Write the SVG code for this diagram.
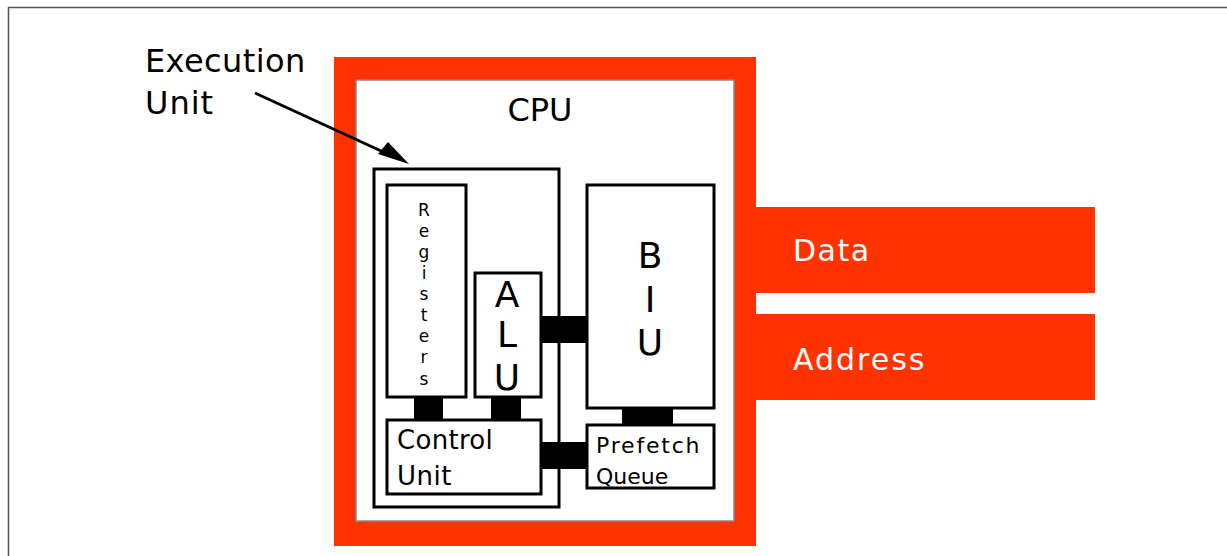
<svg xmlns="http://www.w3.org/2000/svg" width="1227" height="556" viewBox="0 0 1227 556">
<style>
text{font-family:"DejaVu Sans","Liberation Sans",sans-serif;fill:#000}
.box{fill:#fff;stroke:#000;stroke-width:3}
.red{fill:#ff3300}
.bar{fill:#000}
.wt{fill:#fff}
</style>
<rect x="0" y="0" width="1227" height="556" fill="#fff"/>
<path d="M8.5,556 V7.5 H1227" fill="none" stroke="#555" stroke-width="1.5"/>
<g id="cpu">
<rect class="red" x="334" y="57" width="422" height="489"/>
<rect x="356" y="80" width="378" height="441" fill="#fff" stroke="#888" stroke-width="1.5"/>
<text x="540" y="121" font-size="32" text-anchor="middle">CPU</text>
</g>
<g id="data">
<rect class="red" x="756" y="207" width="339" height="86"/>
<text class="wt" x="793" y="261" font-size="30" letter-spacing="1.5">Data</text>
</g>
<g id="address">
<rect class="red" x="756" y="314" width="339" height="86"/>
<text class="wt" x="793" y="370" font-size="30" letter-spacing="2">Address</text>
</g>
<g id="execution-unit">
<rect class="box" x="374" y="169" width="185" height="338"/>
</g>
<g id="exec-label">
<text x="145" y="72" font-size="32" letter-spacing="0.4">Execution</text>
<text x="145" y="114" font-size="32" letter-spacing="1">Unit</text>
</g>
<g id="registers">
<rect class="box" x="387" y="185" width="79" height="212"/>
<g font-size="17" text-anchor="middle">
<text x="424" y="216">R</text>
<text x="424" y="237">e</text>
<text x="424" y="258">g</text>
<text x="424" y="279">i</text>
<text x="424" y="300">s</text>
<text x="424" y="321">t</text>
<text x="424" y="342">e</text>
<text x="424" y="363">r</text>
<text x="424" y="385">s</text>
</g>
</g>
<g id="alu">
<rect class="box" x="475" y="273" width="66" height="124"/>
<g font-size="36" text-anchor="middle">
<text x="507" y="307">A</text>
<text x="507" y="347">L</text>
<text x="507" y="390">U</text>
</g>
</g>
<g id="biu">
<rect class="box" x="587" y="185" width="127" height="223"/>
<g font-size="36" text-anchor="middle">
<text x="650" y="268">B</text>
<text x="650" y="312">I</text>
<text x="650" y="355">U</text>
</g>
</g>
<g id="control-unit">
<rect class="box" x="387" y="420" width="154" height="74"/>
<text x="397" y="449" font-size="26" letter-spacing="0.3">Control</text>
<text x="397" y="485" font-size="26" letter-spacing="0.5">Unit</text>
</g>
<g id="prefetch-queue">
<rect class="box" x="587" y="425" width="127" height="63"/>
<text x="596" y="453" font-size="22" letter-spacing="1.8">Prefetch</text>
<text x="596" y="484" font-size="22">Queue</text>
</g>
<g id="connectors">
<rect class="bar" x="414" y="397" width="29" height="22"/>
<rect class="bar" x="491" y="397" width="30" height="22"/>
<rect class="bar" x="622" y="408" width="51" height="17"/>
<rect class="bar" x="542" y="316" width="44" height="27"/>
<rect class="bar" x="542" y="442" width="44" height="27"/>
<line x1="255" y1="93" x2="392" y2="156" stroke="#000" stroke-width="3"/>
<path d="M409,164 L378,154 L388,142 z" fill="#000"/>
</g>
</svg>
